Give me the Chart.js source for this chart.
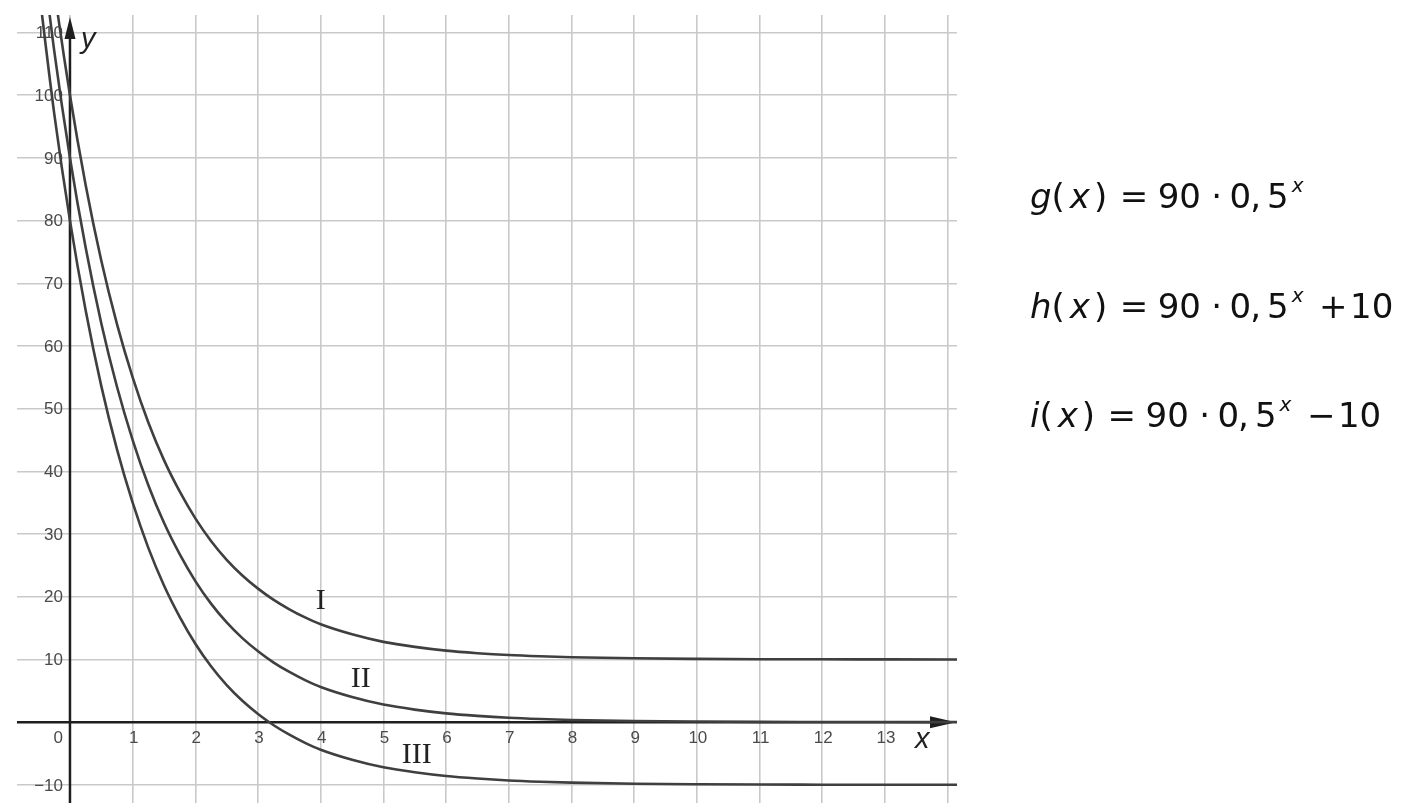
<!DOCTYPE html>
<html>
<head>
<meta charset="utf-8">
<title>g, h, i</title>
<script src="https://cdn.jsdelivr.net/npm/chart.js@4"></script>
<style>
    html, body { margin: 0; padding: 0; background: #fff; }
    #wrap { width: 1419px; height: 808px; position: relative; }
</style>
</head>
<body>
<div id="wrap"><canvas id="expChart" width="1419" height="808"></canvas></div>
<script>
// --- Data ---
const xValues = [-0.5, -0.25, 0, 0.25, 0.5, 0.75, 1, 1.25, 1.5, 1.75, 2, 2.25, 2.5, 2.75, 3, 3.25, 3.5, 3.75, 4, 4.5, 5, 5.5, 6, 6.5, 7, 7.5, 8, 9, 10, 11, 12, 13, 14.2];
// curve I  (h)
const curveI = [137.3, 117.0, 100.0, 85.7, 73.6, 63.5, 55.0, 47.8, 41.8, 36.8, 32.5, 28.9, 25.9, 23.4, 21.3, 19.5, 18.0, 16.7, 15.6, 14.0, 12.8, 12.0, 11.4, 11.0, 10.7, 10.5, 10.35, 10.18, 10.09, 10.04, 10.02, 10.01, 10.0];
// curve II (g)
const curveII = [127.3, 107.0, 90.0, 75.7, 63.6, 53.5, 45.0, 37.8, 31.8, 26.8, 22.5, 18.9, 15.9, 13.4, 11.3, 9.5, 8.0, 6.7, 5.6, 4.0, 2.8, 2.0, 1.4, 1.0, 0.7, 0.5, 0.35, 0.18, 0.09, 0.04, 0.02, 0.01, 0.0];
// curve III (i)
const curveIII = [117.3, 97.0, 80.0, 65.7, 53.6, 43.5, 35.0, 27.8, 21.8, 16.8, 12.5, 8.9, 5.9, 3.4, 1.3, -0.5, -2.0, -3.3, -4.4, -6.0, -7.2, -8.0, -8.6, -9.0, -9.3, -9.5, -9.65, -9.82, -9.91, -9.96, -9.98, -9.99, -10.0];

const xGridValues = [0, 1, 2, 3, 4, 5, 6, 7, 8, 9, 10, 11, 12, 13, 14];
const yGridValues = [-10, 0, 10, 20, 30, 40, 50, 60, 70, 80, 90, 100, 110];
const xTickLabels = ['1', '2', '3', '4', '5', '6', '7', '8', '9', '10', '11', '12', '13'];
const yTickLabels = ['-10', '10', '20', '30', '40', '50', '60', '70', '80', '90', '100', '110'];

// roman labels next to the curves, in data coordinates
const curveLabelText = ['I', 'II', 'III'];
const curveLabelX = [4.0, 4.64, 5.53];
const curveLabelY = [19.3, 6.9, -5.3];

const formulaRows = [
    { name: 'g', tail: '' },
    { name: 'h', tail: '+' },
    { name: 'i', tail: '\u2212' }
];

// --- Styles ---
const SANS = '"Liberation Sans", Arial, sans-serif';
const MATH = '"DejaVu Sans", Verdana, sans-serif';
const curveColor = '#3f3f3f';
const axisColor = '#1e1e1e';

const toPoints = ys => xValues.map((x, k) => ({ x: x, y: ys[k] }));

/**
 * Draws axes with arrows, tick labels and the formulas on the right.
 */
const axesPlugin = {
    id: 'axesPlugin',
    beforeDatasetsDraw(chart) {
        const { ctx, chartArea, scales: { x, y } } = chart;
        const x0 = x.getPixelForValue(0);
        const y0 = y.getPixelForValue(0);
        ctx.save();

        // tick labels
        ctx.fillStyle = '#4a4a4a';
        ctx.font = '17px ' + SANS;
        ctx.textAlign = 'center';
        ctx.textBaseline = 'middle';
        xTickLabels.forEach(t => {
            ctx.fillText(t, x.getPixelForValue(Number(t)) + 1, y0 + 16);
        });
        ctx.textAlign = 'right';
        ctx.fillText('0', x0 - 7, y0 + 16);
        yTickLabels.forEach(t => {
            const label = t.replace('-', '\u2212');
            ctx.fillText(label, x0 - 7, y.getPixelForValue(Number(t)) + 1);
        });

        // axis lines
        ctx.strokeStyle = axisColor;
        ctx.fillStyle = axisColor;
        ctx.lineWidth = 2.5;
        ctx.beginPath();
        ctx.moveTo(x0, chartArea.bottom);
        ctx.lineTo(x0, chartArea.top + 18);
        ctx.moveTo(chartArea.left, y0);
        ctx.lineTo(chartArea.right - 22, y0);
        ctx.stroke();

        // arrow heads
        ctx.beginPath();
        ctx.moveTo(x0, chartArea.top + 2);
        ctx.lineTo(x0 - 5.5, chartArea.top + 24);
        ctx.lineTo(x0 + 5.5, chartArea.top + 24);
        ctx.closePath();
        ctx.fill();
        ctx.beginPath();
        ctx.moveTo(chartArea.right - 1, y0);
        ctx.lineTo(chartArea.right - 27, y0 - 6);
        ctx.lineTo(chartArea.right - 27, y0 + 6);
        ctx.closePath();
        ctx.fill();
        ctx.restore();
    },
    afterDatasetsDraw(chart) {
        const { ctx, chartArea, scales: { x, y } } = chart;
        ctx.save();

        // axis names
        ctx.fillStyle = '#222';
        ctx.font = 'italic 29px ' + SANS;
        ctx.textAlign = 'left';
        ctx.textBaseline = 'alphabetic';
        ctx.fillText('y', x.getPixelForValue(0) + 11, chartArea.top + 33);
        ctx.fillText('x', chartArea.right - 42, y.getPixelForValue(0) + 26);

        // curve names
        ctx.font = '30px "Liberation Serif", "DejaVu Serif", serif';
        ctx.textAlign = 'center';
        ctx.textBaseline = 'middle';
        curveLabelText.forEach((t, k) => {
            ctx.fillText(t, x.getPixelForValue(curveLabelX[k]), y.getPixelForValue(curveLabelY[k]));
        });

        // formulas
        ctx.fillStyle = '#111';
        formulaRows.forEach((row, k) => {
            drawFormula(ctx, row, 1030, 208 + k * 109.5);
        });
        ctx.restore();
    }
};

// writes "n(x) = 90 · 0,5^x [+/- 10]" piece by piece
const drawFormula = (ctx, row, startX, baseY) => {
    const big = '34px ' + MATH;
    const bigIt = 'italic 34px ' + MATH;
    const sup = 'italic 20px ' + MATH;
    const parts = [
        { t: row.name, f: bigIt, gap: 0 },
        { t: '(', f: big, gap: 0 },
        { t: 'x', f: bigIt, gap: 5 },
        { t: ')', f: big, gap: 4 },
        { t: '=', f: big, gap: 12.5 },
        { t: '90', f: big, gap: 9.5 },
        { t: '\u00b7', f: big, gap: 10.3 },
        { t: '0', f: big, gap: 7.5 },
        { t: ',', f: big, gap: -1 },
        { t: '5', f: big, gap: 6 },
        { t: 'x', f: sup, gap: 3, dy: -16 }
    ];
    if (row.tail) {
        parts.push({ t: row.tail, f: big, gap: 15.6 });
        parts.push({ t: '10', f: big, gap: 2.5 });
    }
    let px = startX;
    ctx.textAlign = 'left';
    ctx.textBaseline = 'alphabetic';
    parts.forEach(p => {
        px += p.gap;
        ctx.font = p.f;
        ctx.fillText(p.t, px, baseY + (p.dy || 0));
        px += ctx.measureText(p.t).width;
    });
};

document.addEventListener('DOMContentLoaded', () => {
    const ctx = document.getElementById('expChart').getContext('2d');

    const lineSet = ys => ({
        data: toPoints(ys),
        borderColor: curveColor,
        borderWidth: 2.6,
        pointRadius: 0,
        fill: false,
        cubicInterpolationMode: 'monotone'
    });

    new Chart(ctx, {
        type: 'line',
        data: {
            datasets: [lineSet(curveI), lineSet(curveII), lineSet(curveIII)]
        },
        options: {
            responsive: false,
            animation: false,
            events: [],
            layout: { padding: { left: 17, top: 15, right: 462, bottom: 5 } },
            plugins: {
                legend: { display: false },
                tooltip: { enabled: false }
            },
            scales: {
                x: {
                    type: 'linear',
                    min: -0.845,
                    max: 14.15,
                    afterBuildTicks: scale => { scale.ticks = xGridValues.map(v => ({ value: v })); },
                    ticks: { display: false },
                    border: { display: false },
                    grid: { color: '#c9c9c9', lineWidth: 1.6, drawTicks: false }
                },
                y: {
                    type: 'linear',
                    min: -12.9,
                    max: 112.8,
                    afterBuildTicks: scale => { scale.ticks = yGridValues.map(v => ({ value: v })); },
                    ticks: { display: false },
                    border: { display: false },
                    grid: { color: '#c9c9c9', lineWidth: 1.6, drawTicks: false }
                }
            }
        },
        plugins: [axesPlugin]
    });
});
</script>
</body>
</html>
